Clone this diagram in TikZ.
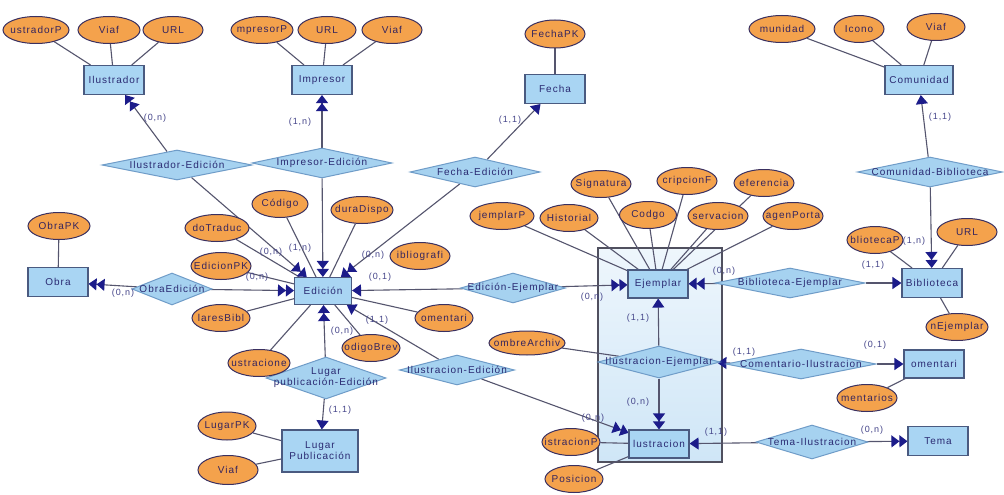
\documentclass[tikz,border=0pt]{standalone}
\usepackage{fontspec}
\setmainfont{Liberation Sans}[LetterSpace=10]
\usetikzlibrary{shapes.geometric,arrows.meta}
\definecolor{entfill}{HTML}{A9D5F3}
\definecolor{entdraw}{HTML}{4A5A80}
\definecolor{attfill}{HTML}{F4A24C}
\definecolor{attdraw}{HTML}{3A3060}
\definecolor{relfill}{HTML}{A6D2F0}
\definecolor{reldraw}{HTML}{6F9CC8}
\definecolor{txt}{HTML}{2A2A72}
\definecolor{atttxt}{HTML}{34245E}
\definecolor{linec}{HTML}{55556E}
\definecolor{tipc}{HTML}{1C1C8A}
\definecolor{cardtxt}{HTML}{45458A}
\definecolor{bigtop}{HTML}{EEF6FC}
\definecolor{bigbot}{HTML}{CFE6F7}
\definecolor{bigdraw}{HTML}{50505F}
\newcommand\zbox[1]{\makebox[0pt][c]{#1}}
\pgfdeclarelayer{back}
\pgfdeclarelayer{bg}
\pgfsetlayers{back,bg,main}
\tikzset{
  ent/.style={draw=entdraw, fill=entfill, line width=1.1pt, minimum width=60pt, minimum height=29pt, inner sep=0pt, font=\fontsize{10}{11}\selectfont, text=txt},
  attr/.style={ellipse, draw=attdraw, fill=attfill, line width=1pt, minimum width=60pt, minimum height=27pt, inner sep=0pt, font=\fontsize{10}{11}\selectfont, text=atttxt},
  rel/.style={diamond, draw=reldraw, fill=relfill, line width=1pt, minimum width=140pt, minimum height=30pt, inner sep=0pt, font=\fontsize{10}{11}\selectfont, text=txt},
  conn/.style={draw=linec, line width=1.1pt},
  one/.style={conn, -{Triangle[length=9pt,width=12pt,color=tipc]}},
  many/.style={conn, -{Triangle[length=8pt,width=12pt,color=tipc]Triangle[length=8pt,width=12pt,color=tipc]}},
  card/.style={font=\fontsize{9}{10}\selectfont, text=cardtxt, inner sep=0pt},
}
\begin{document}
\begin{tikzpicture}[x=1pt,y=-1pt]
\useasboundingbox (0,0) rectangle (1004,495);
\begin{pgfonlayer}{back}
\fill[white] (0,0) rectangle (1004,495);
\shade[top color=bigtop, bottom color=bigbot] (598,248) rectangle (722,462);
\draw[bigdraw, line width=1.3pt] (598,248) rectangle (722,462);
\end{pgfonlayer}

% entities
\node[ent] (ilustrador) at (114,80) {\zbox{Ilustrador}};
\node[ent] (impresor) at (322,80) {\zbox{Impresor}};
\node[ent] (fecha) at (555,89) {\zbox{Fecha}};
\node[ent, minimum width=68pt] (comunidad) at (919,80) {\zbox{Comunidad}};
\node[ent] (obra) at (58,282) {\zbox{Obra}};
\node[ent, minimum width=57pt, minimum height=27pt] (edicion) at (323,291) {\zbox{Edición}};
\node[ent, minimum height=28pt] (ejemplar) at (658,284) {\zbox{Ejemplar}};
\node[ent] (biblioteca) at (932,283) {\zbox{Biblioteca}};
\node[ent, minimum height=28pt] (comentario) at (934,364) {\zbox{omentari}};
\node[ent, minimum height=28pt] (ilustracion) at (659,444) {\zbox{lustracion}};
\node[ent, minimum width=76pt, minimum height=42pt, align=center] (lugar) at (320,451) {Lugar\\Publicación};
\node[ent] (tema) at (938,441) {\zbox{Tema}};

% relationships
\node[rel, minimum width=150pt] (rIlEd) at (177,165) {\zbox{Ilustrador-Edición}};
\node[rel, minimum width=140pt] (rImEd) at (322,163) {\zbox{Impresor-Edición}};
\node[rel, minimum width=130pt] (rFeEd) at (475,172) {\zbox{Fecha-Edición}};
\node[rel, minimum width=145pt] (rCoBi) at (930,172) {\zbox{Comunidad-Biblioteca}};
\node[rel, minimum width=80pt, minimum height=32pt] (rObEd) at (172,289) {\zbox{ObraEdición}};
\node[rel, minimum width=105pt] (rEdEj) at (513,288) {\zbox{Edición-Ejemplar}};
\node[rel, minimum width=150pt] (rBiEj) at (790,283) {\zbox{Biblioteca-Ejemplar}};
\node[rel, minimum width=122pt, minimum height=32pt] (rIlEj) at (659,362) {\zbox{Ilustracion-Ejemplar}};
\node[rel, minimum width=150pt] (rCoIl) at (801,364) {\zbox{Comentario-Ilustracion}};
\node[rel, minimum width=112pt, minimum height=34pt] (rTeIl) at (812,442) {\zbox{Tema-Ilustracion}};
\node[rel, minimum width=115pt] (rIsEd) at (457,370) {\zbox{Ilustracion-Edición}};
\node[rel, minimum width=120pt, minimum height=42pt] (rLuEd) at (326,378) {\zbox{\begin{tabular}{@{}c@{}}Lugar\\publicación-Edición\end{tabular}}};

% attributes
\node[attr, minimum width=66pt] (a1) at (36,30) {\zbox{ustradorP}};
\node[attr, minimum width=62pt] (a2) at (109,30) {\zbox{Viaf}};
\node[attr] (a3) at (173,30) {\zbox{URL}};
\node[attr, minimum width=62pt] (a4) at (262,30) {\zbox{mpresorP}};
\node[attr, minimum width=58pt] (a5) at (327,30) {\zbox{URL}};
\node[attr] (a6) at (392,30) {\zbox{Viaf}};
\node[attr, minimum height=28pt] (a7) at (555,34) {\zbox{FechaPK}};
\node[attr, minimum width=66pt] (a8) at (782,29) {\zbox{munidad}};
\node[attr, minimum width=50pt] (a9) at (859,29) {\zbox{Icono}};
\node[attr, minimum width=58pt] (a10) at (936,27) {\zbox{Viaf}};
\node[attr, minimum width=62pt] (a11) at (59,226) {\zbox{ObraPK}};
\node[attr, minimum width=64pt] (a12) at (217,228) {\zbox{doTraduc}};
\node[attr] (a13) at (221,266) {\zbox{EdicionPK}};
\node[attr, minimum width=58pt] (a14) at (221,318) {\zbox{laresBibl}};
\node[attr, minimum width=56pt] (a15) at (280,204) {\zbox{Código}};
\node[attr, minimum width=62pt] (a16) at (362,210) {\zbox{duraDispo}};
\node[attr] (a17) at (420,256) {\zbox{ibliografi}};
\node[attr, minimum width=58pt] (a18) at (444,318) {\zbox{omentari}};
\node[attr, minimum width=62pt] (a19) at (259,363) {\zbox{ustracione}};
\node[attr, minimum width=58pt] (a20) at (371,348) {\zbox{odigoBrev}};
\node[attr, minimum width=58pt, minimum height=28pt] (a21) at (227,426) {\zbox{LugarPK}};
\node[attr, minimum height=29pt] (a22) at (228,470) {\zbox{Viaf}};
\node[attr, minimum width=64pt] (a23) at (502,216) {\zbox{jemplarP}};
\node[attr, minimum width=58pt] (a24) at (569,218) {\zbox{Historial}};
\node[attr] (a25) at (601,184) {\zbox{Signatura}};
\node[attr, minimum width=57pt] (a26) at (648,215) {\zbox{Codgo}};
\node[attr] (a27) at (687,181) {\zbox{cripcionF}};
\node[attr] (a28) at (718,216) {\zbox{servacion}};
\node[attr] (a29) at (764,183) {\zbox{eferencia}};
\node[attr] (a30) at (793,216) {\zbox{agenPorta}};
\node[attr, minimum width=56pt] (a31) at (875,240) {\zbox{bliotecaP}};
\node[attr] (a32) at (967,232) {\zbox{URL}};
\node[attr, minimum width=62pt] (a33) at (957,327) {\zbox{nEjemplar}};
\node[attr, minimum width=76pt, minimum height=24pt] (a34) at (527,343) {\zbox{ombreArchiv}};
\node[attr, minimum width=58pt] (a35) at (571,442) {\zbox{istracionP}};
\node[attr, minimum width=58pt] (a36) at (574,479) {\zbox{Posicion}};
\node[attr] (a37) at (867,398) {\zbox{mentarios}};

% connectors
\begin{pgfonlayer}{bg}
\foreach \a in {a1,a2,a3} \draw[conn] (\a) -- (ilustrador);
\foreach \a in {a4,a5,a6} \draw[conn] (\a) -- (impresor);
\draw[conn] (a7) -- (fecha);
\foreach \a in {a8,a9,a10} \draw[conn] (\a) -- (comunidad);
\draw[conn] (a11) -- (obra);
\foreach \a in {a12,a13,a14,a15,a16,a18,a19,a20} \draw[conn] (\a) -- (edicion);
\foreach \a in {a21,a22} \draw[conn] (\a) -- (lugar);
\foreach \a in {a23,a24,a25,a26,a27,a28,a29,a30} \draw[conn] (\a) -- (ejemplar);
\foreach \a in {a31,a32,a33} \draw[conn] (\a) -- (biblioteca);
\draw[conn] (a34) -- (rIlEj);
\draw[conn] (a37) -- (comentario);
\foreach \a in {a35,a36} \draw[conn] (\a) -- (ilustracion);

\draw[many] (rIlEd) -- (ilustrador);
\draw[many] (rIlEd) -- (edicion);
\draw[many] (rImEd) -- (impresor);
\draw[many] (rImEd) -- (edicion);
\draw[one] (rFeEd) -- (fecha);
\draw[many] (rFeEd) -- (edicion);
\draw[one] (rCoBi) -- (comunidad);
\draw[many] (rCoBi) -- (biblioteca);
\draw[many] (rObEd) -- (obra);
\draw[many] (rObEd) -- (edicion);
\draw[one] (rEdEj) -- (edicion);
\draw[many] (rEdEj) -- (ejemplar);
\draw[many] (rBiEj) -- (ejemplar);
\draw[one] (rBiEj) -- (biblioteca);
\draw[one] (rIlEj) -- (ejemplar);
\draw[many] (rIlEj) -- (ilustracion);
\draw[one] (rCoIl) -- (rIlEj);
\draw[one] (rCoIl) -- (comentario);
\draw[one] (rTeIl) -- (ilustracion);
\draw[many] (rTeIl) -- (tema);
\draw[one] (rIsEd) -- (edicion);
\draw[many] (rIsEd) -- (ilustracion);
\draw[many] (rLuEd) -- (edicion);
\draw[one] (rLuEd) -- (lugar);
\end{pgfonlayer}

% cardinalities
\node[card] (c1) at (155,118) {(0,n)};
\node[card] (c2) at (300,122) {(1,n)};
\node[card] (c3) at (510,120) {(1,1)};
\node[card] (c4) at (940,117) {(1,1)};
\node[card] (c5) at (123,293) {(0,n)};
\node[card] (c6) at (257,277) {(0,n)};
\node[card] (c7) at (271,252) {(0,n)};
\node[card] (c8) at (300,248) {(1,n)};
\node[card] (c9) at (373,255) {(0,n)};
\node[card] (c10) at (380,277) {(0,1)};
\node[card] (c11) at (377,320) {(1,1)};
\node[card] (c12) at (342,331) {(0,n)};
\node[card] (c13) at (340,410) {(1,1)};
\node[card] (c14) at (592,297) {(0,n)};
\node[card] (c15) at (724,271) {(0,n)};
\node[card] (c16) at (873,265) {(1,1)};
\node[card] (c17) at (914,241) {(1,n)};
\node[card] (c18) at (638,318) {(1,1)};
\node[card] (c19) at (638,402) {(0,n)};
\node[card] (c20) at (744,352) {(1,1)};
\node[card] (c21) at (875,345) {(0,1)};
\node[card] (c22) at (593,418) {(0,n)};
\node[card] (c23) at (716,432) {(1,1)};
\node[card] (c24) at (872,430) {(0,n)};
\end{tikzpicture}
\end{document}
